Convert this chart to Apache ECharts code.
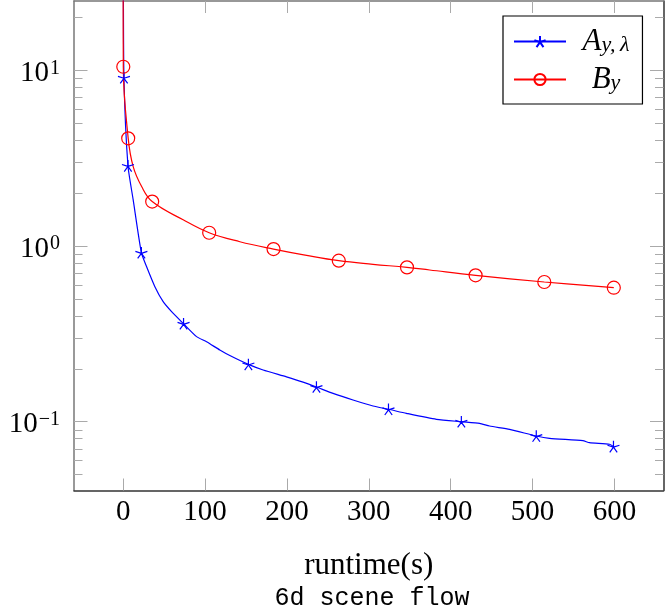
<!DOCTYPE html>
<html>
<head>
<meta charset="utf-8">
<script src="https://cdn.jsdelivr.net/npm/echarts@6/dist/echarts.min.js"></script>
<style>
  html, body { margin: 0; padding: 0; background: #fff; }
  #chart { width: 666px; height: 608px; }
</style>
</head>
<body>
<div id="chart"></div>
<script>
// values (runtime in s, value on log scale)
const seriesNames = ['A_{y,λ}', 'B_y'];

const aRuntime = [0.3, 1.0, 5.9, 12.3, 22.3, 28.7, 38.8, 48.9, 59.2, 73.8, 89.7, 101.9, 118.1, 130.3, 153.0,
  171.0, 199.5, 219.8, 236.1, 256.4, 280.8, 305.2, 324.1, 346.0, 382.6, 413.1, 435.4, 447.6, 472.0, 504.6,
  520.8, 561.5, 569.6, 594.1, 598.9];
const aValue = [40, 9.08, 2.86, 1.83, 0.916, 0.762, 0.587, 0.482, 0.423, 0.361, 0.305, 0.285, 0.256, 0.238, 0.212,
  0.197, 0.180, 0.168, 0.1576, 0.145, 0.1329, 0.1228, 0.1177, 0.1116, 0.1032, 0.100, 0.0979, 0.0945, 0.0905, 0.0829,
  0.0804, 0.0780, 0.0760, 0.0744, 0.0722];
const aMarked = [0, 1, 1, 0, 1, 0, 0, 0, 0, 1, 0, 0, 0, 0, 1,
  0, 0, 0, 1, 0, 0, 0, 1, 0, 0, 1, 0, 0, 0, 1,
  0, 0, 0, 0, 1];

const bRuntime = [0, 0.2, 6.2, 12.3, 22.6, 35.5, 73.3, 105.1, 142.6, 183.7, 224.0, 263.4, 305.2, 346.7, 374.4,
  430.5, 514.4, 599.3];
const bValue = [40, 10.48, 4.10, 2.83, 2.18, 1.79, 1.41, 1.19, 1.058, 0.961, 0.885, 0.825, 0.787, 0.756, 0.730,
  0.681, 0.624, 0.579];
const bMarked = [0, 1, 1, 0, 0, 1, 0, 1, 0, 1, 0, 1, 0, 1, 0, 1, 1, 1];

const xTicks = [0, 100, 200, 300, 400, 500, 600];
const yMajor = [0.1, 1, 10];
const yExponent = ['−1', '0', '1'];
const yMinor = [0.05, 0.06, 0.07, 0.08, 0.09, 0.2, 0.3, 0.4, 0.5, 0.6, 0.7, 0.8, 0.9,
  2, 3, 4, 5, 6, 7, 8, 9, 20];

const serif = 'Liberation Serif';
const X_MIN = -60, X_MAX = 660;
const Y_MIN = 0.0406, Y_MAX = 24.8;

// pgfplots-like five spoke star
const starPath = 'path://M0,0L0,-1M0,0L0.951,-0.309M0,0L-0.951,-0.309M0,0L-0.588,0.809M0,0L0.588,0.809';

function points(xs, ys, marked) {
  return xs.map((x, i) => marked[i] ? [x, ys[i]] : { value: [x, ys[i]], symbol: 'none' });
}

function xAxisAt(position, lineColor, withLabels) {
  return {
    type: 'value', position: position, min: X_MIN, max: X_MAX,
    splitLine: { show: false },
    axisLine: { show: true, onZero: false, lineStyle: { color: lineColor, width: 1.5 } },
    axisTick: { show: true, inside: true, length: 12, customValues: xTicks, lineStyle: { color: '#aaa', width: 1 } },
    axisLabel: withLabels
      ? { show: true, customValues: xTicks, margin: 7, fontFamily: serif, fontSize: 29, color: '#000' }
      : { show: false }
  };
}

function yAxisAt(position, ticks, len, lineColor, withLabels) {
  return {
    type: 'log', position: position, min: Y_MIN, max: Y_MAX, logBase: 10,
    splitLine: { show: false },
    axisLine: { show: lineColor != null, onZero: false, lineStyle: { color: lineColor || '#777', width: 1.5 } },
    axisTick: { show: true, inside: true, length: len, customValues: ticks, lineStyle: { color: '#aaa', width: 1 } },
    axisLabel: withLabels ? {
      show: true, customValues: yMajor, margin: 14,
      formatter: function (v) {
        const i = yMajor.findIndex(m => Math.abs(m - v) / m < 1e-6);
        return '{b|10}{s|' + yExponent[i] + '}';
      },
      rich: {
        b: { fontFamily: serif, fontSize: 29, lineHeight: 30, padding: [6, 0, 0, 0], color: '#000' },
        s: { fontFamily: serif, fontSize: 20, lineHeight: 14, padding: [3, 0, 0, 1], verticalAlign: 'top', color: '#000' }
      }
    } : { show: false }
  };
}

const chart = echarts.init(document.getElementById('chart'), null, { renderer: 'canvas' });

const option = {
  animation: false,
  backgroundColor: '#fff',
  title: {
    text: '6d scene flow',
    left: 372, top: 586, textAlign: 'center', padding: 0,
    textStyle: { fontFamily: 'Liberation Mono', fontSize: 25, fontWeight: 'normal', color: '#000' }
  },
  grid: { left: 74, right: 2.5, top: 1, bottom: 117.5, containLabel: false, outerBoundsMode: 'none' },
  legend: {
    orient: 'vertical', left: 503, top: 16,
    padding: [10, 13, 9, 10], itemGap: 7, itemWidth: 52, itemHeight: 14,
    borderColor: '#000', borderWidth: 1.2, borderRadius: 0, backgroundColor: '#fff',
    data: seriesNames,
    formatter: function (name) {
      const parts = name.split('_');
      const sub = parts[1].replace(/[{}]/g, '').replace(',', ',\u2009');
      return '{i|' + parts[0] + '}{s|' + sub + '}';
    },
    textStyle: {
      width: 70,
      rich: {
        i: { fontFamily: serif, fontStyle: 'italic', fontSize: 31, lineHeight: 30, align: 'center', color: '#000' },
        s: { fontFamily: serif, fontStyle: 'italic', fontSize: 22, lineHeight: 18, verticalAlign: 'bottom', align: 'center', color: '#000' }
      }
    }
  },
  xAxis: [
    Object.assign(xAxisAt('bottom', '#333', true), {
      name: 'runtime(s)', nameLocation: 'middle', nameGap: 60,
      nameTextStyle: { fontFamily: serif, fontSize: 31, color: '#000' }
    }),
    xAxisAt('top', '#777', false)
  ],
  yAxis: [
    yAxisAt('left', yMajor, 13.5, '#777', true),
    yAxisAt('left', yMinor, 8.5, null, false),
    yAxisAt('right', yMajor, 13.5, '#333', false),
    yAxisAt('right', yMinor, 8.5, null, false)
  ],
  series: [
    {
      name: seriesNames[0], type: 'line', xAxisIndex: 0, yAxisIndex: 0,
      data: points(aRuntime, aValue, aMarked),
      symbol: starPath, symbolSize: 12, symbolKeepAspect: true,
      smooth: 0.2, clip: true,
      lineStyle: { color: '#0000ff', width: 1.2 },
      itemStyle: { color: '#0000ff', borderColor: '#0000ff', borderWidth: 1.2 }
    },
    {
      name: seriesNames[1], type: 'line', xAxisIndex: 0, yAxisIndex: 0,
      data: points(bRuntime, bValue, bMarked),
      symbol: 'circle', symbolSize: 13,
      smooth: 0.4, clip: true,
      lineStyle: { color: '#ff0000', width: 1.2 },
      itemStyle: { color: 'rgba(255,255,255,0)', borderColor: '#ff0000', borderWidth: 1.2 }
    }
  ]
};

chart.setOption(option);
</script>
</body>
</html>
